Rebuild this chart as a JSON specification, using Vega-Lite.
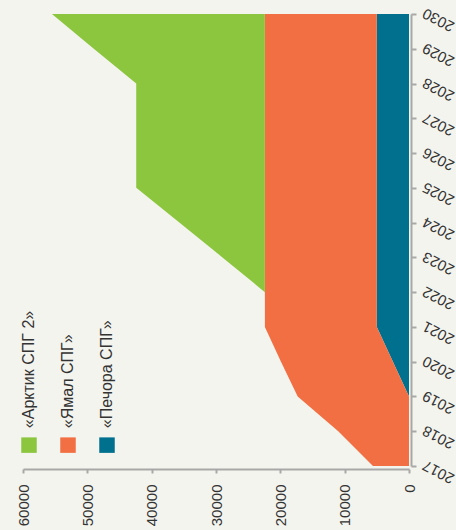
{
  "$schema": "https://vega.github.io/schema/vega-lite/v6.json",
  "width": 386,
  "height": 452,
  "autosize": "none",
  "padding": {"left": 23, "top": 14, "right": 47, "bottom": 64},
  "background": "#f4f4ee",
  "config": {"view": {"stroke": null}, "font": "Liberation Sans"},
  "data": {
    "values": [
      {"year": 2017, "project": "«Печора СПГ»", "rank": 1, "value": 0},
      {"year": 2018, "project": "«Печора СПГ»", "rank": 1, "value": 0},
      {"year": 2019, "project": "«Печора СПГ»", "rank": 1, "value": 0},
      {"year": 2020, "project": "«Печора СПГ»", "rank": 1, "value": 2500},
      {"year": 2021, "project": "«Печора СПГ»", "rank": 1, "value": 5000},
      {"year": 2022, "project": "«Печора СПГ»", "rank": 1, "value": 5000},
      {"year": 2023, "project": "«Печора СПГ»", "rank": 1, "value": 5000},
      {"year": 2024, "project": "«Печора СПГ»", "rank": 1, "value": 5000},
      {"year": 2025, "project": "«Печора СПГ»", "rank": 1, "value": 5000},
      {"year": 2026, "project": "«Печора СПГ»", "rank": 1, "value": 5000},
      {"year": 2027, "project": "«Печора СПГ»", "rank": 1, "value": 5000},
      {"year": 2028, "project": "«Печора СПГ»", "rank": 1, "value": 5000},
      {"year": 2029, "project": "«Печора СПГ»", "rank": 1, "value": 5000},
      {"year": 2030, "project": "«Печора СПГ»", "rank": 1, "value": 5000},
      {"year": 2017, "project": "«Ямал СПГ»", "rank": 2, "value": 5600},
      {"year": 2018, "project": "«Ямал СПГ»", "rank": 2, "value": 11000},
      {"year": 2019, "project": "«Ямал СПГ»", "rank": 2, "value": 17300},
      {"year": 2020, "project": "«Ямал СПГ»", "rank": 2, "value": 17400},
      {"year": 2021, "project": "«Ямал СПГ»", "rank": 2, "value": 17400},
      {"year": 2022, "project": "«Ямал СПГ»", "rank": 2, "value": 17400},
      {"year": 2023, "project": "«Ямал СПГ»", "rank": 2, "value": 17400},
      {"year": 2024, "project": "«Ямал СПГ»", "rank": 2, "value": 17400},
      {"year": 2025, "project": "«Ямал СПГ»", "rank": 2, "value": 17400},
      {"year": 2026, "project": "«Ямал СПГ»", "rank": 2, "value": 17400},
      {"year": 2027, "project": "«Ямал СПГ»", "rank": 2, "value": 17400},
      {"year": 2028, "project": "«Ямал СПГ»", "rank": 2, "value": 17400},
      {"year": 2029, "project": "«Ямал СПГ»", "rank": 2, "value": 17400},
      {"year": 2030, "project": "«Ямал СПГ»", "rank": 2, "value": 17400},
      {"year": 2017, "project": "«Арктик СПГ 2»", "rank": 3, "value": 0},
      {"year": 2018, "project": "«Арктик СПГ 2»", "rank": 3, "value": 0},
      {"year": 2019, "project": "«Арктик СПГ 2»", "rank": 3, "value": 0},
      {"year": 2020, "project": "«Арктик СПГ 2»", "rank": 3, "value": 0},
      {"year": 2021, "project": "«Арктик СПГ 2»", "rank": 3, "value": 0},
      {"year": 2022, "project": "«Арктик СПГ 2»", "rank": 3, "value": 0},
      {"year": 2023, "project": "«Арктик СПГ 2»", "rank": 3, "value": 6600},
      {"year": 2024, "project": "«Арктик СПГ 2»", "rank": 3, "value": 13300},
      {"year": 2025, "project": "«Арктик СПГ 2»", "rank": 3, "value": 20000},
      {"year": 2026, "project": "«Арктик СПГ 2»", "rank": 3, "value": 20000},
      {"year": 2027, "project": "«Арктик СПГ 2»", "rank": 3, "value": 20000},
      {"year": 2028, "project": "«Арктик СПГ 2»", "rank": 3, "value": 20000},
      {"year": 2029, "project": "«Арктик СПГ 2»", "rank": 3, "value": 26600},
      {"year": 2030, "project": "«Арктик СПГ 2»", "rank": 3, "value": 33100}
    ]
  },
  "mark": {"type": "area", "orient": "horizontal", "interpolate": "linear"},
  "encoding": {
    "y": {
      "field": "year",
      "type": "quantitative",
      "scale": {"domain": [2017, 2030], "nice": false, "zero": false},
      "axis": {
        "orient": "right",
        "title": null,
        "grid": false,
        "values": [2017, 2018, 2019, 2020, 2021, 2022, 2023, 2024, 2025, 2026, 2027, 2028, 2029, 2030],
        "format": "d",
        "offset": 2,
        "domainColor": "#a8a8a8",
        "domainWidth": 2,
        "tickColor": "#a8a8a8",
        "tickWidth": 2,
        "tickSize": 5,
        "labelAngle": 207,
        "labelAlign": "right",
        "labelBaseline": "middle",
        "labelPadding": 7,
        "labelOffset": -2,
        "labelFontSize": 15,
        "labelColor": "#333333",
        "labelFlush": false,
        "labelOverlap": false
      }
    },
    "x": {
      "field": "value",
      "type": "quantitative",
      "stack": "zero",
      "scale": {"domain": [0, 60000], "reverse": true, "nice": false},
      "axis": {
        "orient": "bottom",
        "title": null,
        "grid": false,
        "values": [0, 10000, 20000, 30000, 40000, 50000, 60000],
        "format": "d",
        "offset": 3,
        "domainColor": "#a8a8a8",
        "domainWidth": 2,
        "tickColor": "#a8a8a8",
        "tickWidth": 2,
        "tickSize": 4,
        "labelAngle": -90,
        "labelAlign": "right",
        "labelBaseline": "middle",
        "labelPadding": 11,
        "labelFontSize": 15,
        "labelColor": "#333333",
        "labelFlush": false,
        "labelOverlap": false
      }
    },
    "color": {
      "field": "project",
      "type": "nominal",
      "scale": {
        "domain": ["«Арктик СПГ 2»", "«Ямал СПГ»", "«Печора СПГ»"],
        "range": ["#8cc63f", "#f26f43", "#00708f"]
      },
      "legend": {
        "title": null,
        "orient": "none",
        "legendX": -2,
        "legendY": 423,
        "direction": "horizontal",
        "symbolType": "square",
        "symbolSize": 240,
        "symbolStrokeWidth": 0,
        "symbolOpacity": 1,
        "labelFontSize": 16,
        "labelColor": "#333333",
        "labelLimit": 0,
        "columnPadding": 22,
        "padding": 0,
        "encode": {
          "labels": {
            "update": {
              "angle": {"value": -90},
              "align": {"value": "left"},
              "baseline": {"value": "middle"},
              "dx": {"value": 17},
              "dy": {"value": -12}
            }
          }
        }
      }
    },
    "order": {"field": "rank", "type": "quantitative"}
  }
}
